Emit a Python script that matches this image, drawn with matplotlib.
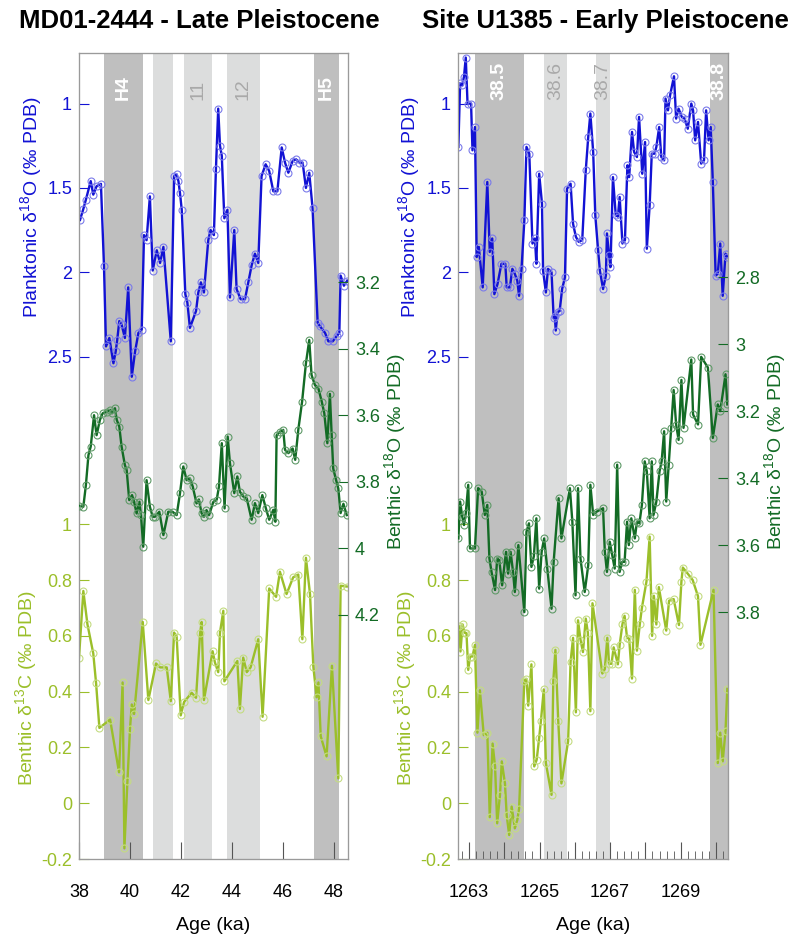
import matplotlib
matplotlib.use('Agg')
import matplotlib.pyplot as plt
from matplotlib.ticker import FixedLocator, MultipleLocator

plt.rcParams['font.family'] = ['Liberation Sans', 'DejaVu Sans']
plt.rcParams['mathtext.default'] = 'regular'
plt.rcParams['axes.unicode_minus'] = False

# ---- MD01-2444 (Late Pleistocene) ----
md_plank_age = [38.04, 38.17, 38.27, 38.46, 38.56, 38.69, 38.86, 38.98, 39.06, 39.19,
                39.35, 39.44, 39.50, 39.58, 39.67, 39.80, 39.93, 40.07, 40.20, 40.33,
                40.46, 40.55, 40.65, 40.78, 40.89, 41.05, 41.18, 41.31, 41.60, 41.73,
                41.83, 41.90, 41.96, 42.03, 42.17, 42.25, 42.35, 42.59, 42.68, 42.78,
                42.90, 43.07, 43.16, 43.29, 43.37, 43.46, 43.53, 43.60, 43.70, 43.82,
                43.92, 44.09, 44.18, 44.34, 44.51, 44.64, 44.77, 44.90, 45.03, 45.16,
                45.32, 45.46, 45.62, 45.78, 45.95, 46.08, 46.21, 46.38, 46.51, 46.64,
                46.77, 46.90, 47.03, 47.16, 47.36, 47.45, 47.65, 47.78, 47.95, 48.10,
                48.21, 48.26, 48.39, 48.52]
md_plank_d18o = [1.69, 1.625, 1.57, 1.46, 1.54, 1.49, 1.476, 1.965, 2.44, 2.39,
                 2.54, 2.47, 2.40, 2.29, 2.31, 2.39, 2.09, 2.62, 2.47, 2.36,
                 2.34, 1.78, 1.81, 1.55, 1.99, 1.87, 1.945, 1.85, 2.41, 1.43,
                 1.42, 1.46, 1.53, 1.63, 2.13, 2.18, 2.33, 2.23, 2.12, 2.06,
                 2.12, 1.81, 1.75, 1.78, 1.39, 1.03, 1.25, 1.31, 1.68, 1.63,
                 2.15, 1.75, 2.10, 2.16, 2.16, 2.06, 1.96, 1.89, 1.945, 1.43,
                 1.36, 1.40, 1.52, 1.52, 1.26, 1.35, 1.41, 1.34, 1.33, 1.35,
                 1.35, 1.50, 1.41, 1.62, 2.30, 2.32, 2.36, 2.41, 2.41, 2.38,
                 2.36, 2.02, 2.08, 2.05]

md_benth_age = [38.00, 38.17, 38.27, 38.37, 38.46, 38.59, 38.69, 38.82, 38.93, 39.08,
                39.22, 39.30, 39.41, 39.48, 39.58, 39.67, 39.80, 39.87, 39.97, 40.08,
                40.16, 40.26, 40.37, 40.43, 40.52, 40.65, 40.78, 40.89, 40.98, 41.15,
                41.31, 41.50, 41.67, 41.83, 41.96, 42.09, 42.22, 42.35, 42.46, 42.61,
                42.70, 42.81, 42.90, 43.00, 43.10, 43.27, 43.40, 43.49, 43.60, 43.71,
                43.83, 43.92, 44.09, 44.21, 44.31, 44.44, 44.58, 44.77, 44.90, 45.03,
                45.19, 45.33, 45.46, 45.62, 45.70, 45.75, 45.88, 46.01, 46.08, 46.21,
                46.38, 46.48, 46.60, 46.75, 46.90, 47.03, 47.12, 47.25, 47.39, 47.52,
                47.62, 47.74, 47.84, 47.91, 47.97, 48.08, 48.17, 48.26, 48.37, 48.50]
md_benth_d18o = [3.872, 3.875, 3.81, 3.72, 3.694, 3.60, 3.66, 3.614, 3.594, 3.59,
                 3.584, 3.594, 3.579, 3.614, 3.634, 3.694, 3.75, 3.765, 3.855, 3.84,
                 3.86, 3.895, 3.86, 3.90, 3.995, 3.795, 3.875, 3.905, 3.905, 3.89,
                 3.96, 3.89, 3.89, 3.90, 3.835, 3.754, 3.795, 3.79, 3.814, 3.865,
                 3.853, 3.895, 3.905, 3.885, 3.90, 3.86, 3.854, 3.814, 3.684, 3.88,
                 3.664, 3.744, 3.834, 3.784, 3.83, 3.844, 3.85, 3.914, 3.864, 3.894,
                 3.84, 3.88, 3.914, 3.884, 3.92, 3.66, 3.65, 3.644, 3.704, 3.714,
                 3.70, 3.734, 3.644, 3.559, 3.444, 3.374, 3.479, 3.509, 3.52, 3.559,
                 3.594, 3.684, 3.536, 3.66, 3.76, 3.794, 3.82, 3.894, 3.866, 3.90]

md_c13_age = [38.00, 38.17, 38.33, 38.56, 38.67, 38.80, 39.22, 39.57, 39.71, 39.78,
              39.90, 40.00, 40.07, 40.16, 40.50, 40.72, 41.02, 41.18, 41.44, 41.60,
              41.73, 41.83, 41.99, 42.12, 42.42, 42.59, 42.75, 42.81, 42.90, 43.24,
              43.33, 43.46, 43.53, 43.66, 43.70, 44.21, 44.31, 44.44, 44.58, 44.73,
              45.03, 45.20, 45.46, 45.73, 45.88, 46.14, 46.40, 46.60, 46.76, 46.90,
              47.06, 47.19, 47.32, 47.39, 47.48, 47.71, 47.92, 48.17, 48.26, 48.50]
md_c13 = [0.522, 0.761, 0.642, 0.537, 0.43, 0.27, 0.30, 0.111, 0.433, -0.162,
          0.08, 0.267, 0.354, 0.32, 0.65, 0.37, 0.501, 0.487, 0.487, 0.366,
          0.612, 0.597, 0.315, 0.363, 0.396, 0.378, 0.61, 0.65, 0.37, 0.545,
          0.505, 0.47, 0.612, 0.69, 0.437, 0.51, 0.338, 0.522, 0.47, 0.487,
          0.588, 0.31, 0.77, 0.74, 0.83, 0.75, 0.81, 0.82, 0.588, 0.88,
          0.75, 0.49, 0.38, 0.433, 0.24, 0.168, 0.493, 0.089, 0.78, 0.777]

# ---- Site U1385 (Early Pleistocene) ----
u_plank_age = [1262.70, 1262.75, 1262.81, 1262.86, 1262.91, 1262.96, 1263.06, 1263.10, 1263.17, 1263.22,
               1263.28, 1263.39, 1263.52, 1263.59, 1263.66, 1263.72, 1263.81, 1263.92, 1264.03, 1264.07,
               1264.16, 1264.23, 1264.30, 1264.37, 1264.42, 1264.49, 1264.57, 1264.63, 1264.71, 1264.80,
               1264.87, 1264.91, 1264.99, 1265.07, 1265.10, 1265.18, 1265.24, 1265.34, 1265.40, 1265.43,
               1265.46, 1265.51, 1265.57, 1265.64, 1265.72, 1265.78, 1265.88, 1265.95, 1266.03, 1266.11,
               1266.21, 1266.31, 1266.38, 1266.44, 1266.52, 1266.58, 1266.66, 1266.71, 1266.80, 1266.88,
               1266.91, 1266.97, 1267.01, 1267.08, 1267.16, 1267.22, 1267.27, 1267.35, 1267.42, 1267.49,
               1267.54, 1267.62, 1267.68, 1267.76, 1267.82, 1267.91, 1267.99, 1268.04, 1268.12, 1268.18,
               1268.26, 1268.31, 1268.39, 1268.45, 1268.53, 1268.57, 1268.64, 1268.70, 1268.81, 1268.87,
               1268.94, 1269.03, 1269.11, 1269.20, 1269.30, 1269.35, 1269.41, 1269.49, 1269.58, 1269.66,
               1269.72, 1269.79, 1269.85, 1269.91, 1269.99, 1270.05, 1270.12, 1270.19, 1270.27, 1270.32]
u_plank_d18o = [1.257, 0.88, 0.89, 0.84, 0.727, 1.0, 1.0, 1.277, 1.139, 1.91,
                1.85, 2.09, 1.465, 1.88, 1.80, 2.13, 2.07, 1.95, 1.95, 2.09,
                2.09, 1.98, 2.01, 2.05, 2.14, 1.98, 1.693, 1.257, 1.297, 1.83,
                1.80, 1.95, 1.416, 1.594, 1.99, 2.12, 1.98, 2.0, 2.27, 2.257,
                2.346, 2.237, 2.23, 2.10, 2.03, 1.505, 1.475, 1.713, 1.79, 1.82,
                1.81, 1.396, 1.198, 1.059, 1.287, 1.663, 1.871, 1.99, 2.10, 2.02,
                1.77, 1.90, 1.97, 1.436, 1.663, 1.67, 1.554, 1.83, 1.81, 1.366,
                1.436, 1.168, 1.287, 1.317, 1.079, 1.416, 1.228, 1.861, 1.604, 1.297,
                1.297, 1.257, 1.139, 1.317, 1.337, 0.97, 1.04, 0.95, 0.838, 1.089,
                1.03, 1.079, 1.089, 1.149, 1.0, 1.04, 1.218, 1.109, 1.356, 1.337,
                1.04, 1.218, 1.139, 1.465, 2.02, 2.01, 1.83, 2.14, 1.89, 1.91]

u_benth_age = [1262.70, 1262.75, 1262.81, 1262.86, 1262.91, 1262.98, 1263.03, 1263.17, 1263.26, 1263.36,
               1263.45, 1263.52, 1263.58, 1263.64, 1263.74, 1263.80, 1263.86, 1263.94, 1264.05, 1264.11,
               1264.18, 1264.25, 1264.30, 1264.40, 1264.57, 1264.63, 1264.70, 1264.77, 1264.84, 1264.91,
               1264.99, 1265.06, 1265.13, 1265.22, 1265.34, 1265.40, 1265.54, 1265.62, 1265.86, 1265.93,
               1266.02, 1266.09, 1266.16, 1266.28, 1266.38, 1266.44, 1266.52, 1266.62, 1266.80, 1266.85,
               1266.91, 1266.99, 1267.06, 1267.13, 1267.20, 1267.27, 1267.34, 1267.41, 1267.48, 1267.53,
               1267.60, 1267.70, 1267.76, 1267.83, 1267.90, 1267.98, 1268.04, 1268.12, 1268.18, 1268.23,
               1268.31, 1268.40, 1268.46, 1268.53, 1268.59, 1268.66, 1268.73, 1268.80, 1268.87, 1268.94,
               1269.02, 1269.08, 1269.30, 1269.35, 1269.49, 1269.58, 1269.77, 1269.91, 1270.05, 1270.12,
               1270.27, 1270.32]
u_benth_d18o = [3.58, 3.47, 3.515, 3.54, 3.505, 3.42, 3.61, 3.61, 3.43, 3.44,
                3.51, 3.48, 3.64, 3.68, 3.734, 3.64, 3.645, 3.72, 3.62, 3.685,
                3.62, 3.68, 3.74, 3.60, 3.80, 3.56, 3.535, 3.665, 3.633, 3.52,
                3.73, 3.62, 3.58, 3.67, 3.79, 3.65, 3.46, 3.58, 3.43, 3.53,
                3.75, 3.43, 3.64, 3.74, 3.66, 3.42, 3.51, 3.50, 3.49, 3.62,
                3.68, 3.59, 3.63, 3.67, 3.36, 3.68, 3.65, 3.65, 3.53, 3.60,
                3.52, 3.58, 3.53, 3.535, 3.48, 3.35, 3.38, 3.52, 3.35, 3.51,
                3.47, 3.38, 3.35, 3.26, 3.47, 3.36, 3.25, 3.137, 3.24, 3.286,
                3.107, 3.25, 3.046, 3.21, 3.24, 3.038, 3.07, 3.28, 3.18, 3.20,
                3.09, 3.18]

u_c13_age = [1262.73, 1262.76, 1262.82, 1262.88, 1262.93, 1262.98, 1263.03, 1263.10, 1263.17, 1263.24,
             1263.31, 1263.42, 1263.52, 1263.59, 1263.67, 1263.74, 1263.80, 1263.88, 1263.93, 1264.02,
             1264.07, 1264.14, 1264.21, 1264.30, 1264.37, 1264.42, 1264.57, 1264.63, 1264.68, 1264.77,
             1264.85, 1264.92, 1264.99, 1265.04, 1265.12, 1265.18, 1265.34, 1265.39, 1265.45, 1265.53,
             1265.62, 1265.81, 1265.88, 1265.95, 1266.03, 1266.09, 1266.16, 1266.23, 1266.31, 1266.37,
             1266.44, 1266.50, 1266.78, 1266.85, 1266.92, 1266.97, 1267.04, 1267.10, 1267.22, 1267.27,
             1267.35, 1267.41, 1267.48, 1267.54, 1267.62, 1267.70, 1267.76, 1267.84, 1267.90, 1268.03,
             1268.12, 1268.19, 1268.24, 1268.31, 1268.38, 1268.59, 1268.67, 1268.80, 1268.95, 1269.02,
             1269.06, 1269.20, 1269.34, 1269.49, 1269.56, 1269.93, 1270.05, 1270.12, 1270.19, 1270.27,
             1270.32]
u_c13 = [0.635, 0.544, 0.641, 0.611, 0.61, 0.478, 0.526, 0.526, 0.568, 0.253,
         0.405, 0.244, 0.253, -0.05, 0.214, 0.132, -0.072, 0.03, 0.15, 0.071,
         -0.044, -0.114, -0.012, -0.09, -0.06, -0.02, 0.44, 0.446, 0.35, 0.498,
         0.132, 0.156, 0.235, 0.296, 0.408, 0.144, 0.03, 0.438, 0.55, 0.295,
         0.071, 0.222, 0.508, 0.593, 0.326, 0.656, 0.587, 0.542, 0.662, 0.611,
         0.33, 0.717, 0.465, 0.481, 0.593, 0.50, 0.50, 0.559, 0.498, 0.568,
         0.643, 0.672, 0.593, 0.59, 0.447, 0.765, 0.547, 0.641, 0.70, 0.795,
         0.956, 0.60, 0.744, 0.641, 0.775, 0.619, 0.726, 0.732, 0.639, 0.795,
         0.845, 0.823, 0.80, 0.742, 0.568, 0.765, 0.144, 0.253, 0.15, 0.26,
         0.41]

# event bands: (start, end, label, kind)
md_bands = [(39.0, 40.5, 'H4', 'dark'), (40.9, 41.7, '', 'light'),
            (42.1, 43.2, '11', 'light'), (43.8, 45.1, '12', 'light'),
            (47.2, 48.2, 'H5', 'dark')]
u_bands = [(1263.17, 1264.56, '38.5', 'dark'), (1265.12, 1265.78, '38.6', 'light'),
           (1266.6, 1267.0, '38.7', 'light'), (1269.83, 1270.5, '38.8', 'dark')]

BLUE = '#1212d4'
BLUE_MK = '#7b7bea'
DGREEN = '#136b25'
DGREEN_MK = '#5f9a68'
LGREEN = '#9bbf2a'
LGREEN_MK = '#c4dc82'
SPINE = '#9a9a9a'
DARK_BAND = '#bfbfbf'
LIGHT_BAND = '#dcdddd'

W, H = 790, 941
fig = plt.figure(figsize=(W / 100, H / 100), dpi=100)


def series(ax, x, y, color, mk):
    ax.plot(x, y, '-', color=color, lw=1.7, marker='o', ms=5, mfc='none',
            mec=mk, mew=0.8, zorder=3)


def draw_panel(left_px, right_px, title, title_x, xlim, xticks, xlabels, minor,
               bands, plank, benth, c13, benth_lim, benth_ticks):
    rect = [left_px / W, 1 - 859 / H, (right_px - left_px) / W, 806 / H]
    ax = fig.add_axes(rect)
    ax.set_xlim(*xlim)
    for s, e, lab, kind in bands:
        ax.axvspan(s, e, color=DARK_BAND if kind == 'dark' else LIGHT_BAND, lw=0, zorder=0)
        if lab:
            ax.text((s + min(e, xlim[1])) / 2, 0.942, lab, rotation=90,
                    transform=ax.get_xaxis_transform(), ha='center', va='bottom',
                    fontsize=14, color='white' if kind == 'dark' else '#a9a9a9',
                    fontweight='bold' if kind == 'dark' else 'normal', zorder=1)

    # benthic d13C on the main axis (left, not inverted)
    ax.set_ylim(-0.2, 2.69)
    ax.set_yticks([-0.2, 0, 0.2, 0.4, 0.6, 0.8, 1])
    ax.set_yticklabels(['-0.2', '0', '0.2', '0.4', '0.6', '0.8', '1'])
    ax.tick_params(axis='y', direction='in', length=7, colors=LGREEN, labelsize=13, pad=5)
    series(ax, c13[0], c13[1], LGREEN, LGREEN_MK)

    # planktonic d18O (left, inverted)
    axp = ax.twinx()
    axp.yaxis.tick_left()
    axp.set_ylim(5.48, 0.70)
    axp.set_yticks([1, 1.5, 2, 2.5])
    axp.set_yticklabels(['1', '1.5', '2', '2.5'])
    axp.tick_params(axis='y', direction='in', length=7, colors=BLUE, labelsize=13, pad=5)
    series(axp, plank[0], plank[1], BLUE, BLUE_MK)

    # benthic d18O (right, inverted)
    axb = ax.twinx()
    axb.set_ylim(*benth_lim)
    axb.set_yticks(benth_ticks)
    axb.set_yticklabels(['%g' % t for t in benth_ticks])
    axb.tick_params(axis='y', direction='in', length=7, colors=DGREEN, labelsize=13, pad=5)
    series(axb, benth[0], benth[1], DGREEN, DGREEN_MK)

    for a in (ax, axp, axb):
        for sp in a.spines.values():
            sp.set_color(SPINE)
        a.set_xlim(*xlim)

    ax.set_xticks(xticks)
    ax.set_xticklabels(xlabels)
    if minor:
        ax.xaxis.set_minor_locator(MultipleLocator(minor))
    ax.tick_params(axis='x', which='major', direction='in', length=12, color='#555555',
                   labelsize=13, pad=18, labelcolor='black')
    ax.tick_params(axis='x', which='minor', direction='in', length=6, color='#555555')

    ax.text(0.5, -0.082, 'Age (ka)', transform=ax.transAxes, ha='center', va='center',
            fontsize=14)
    lab = 'Planktonic δ$^{18}$O (‰ PDB)'
    axp.text(-0.18, 0.809, lab, transform=ax.transAxes, rotation=90, ha='center',
             va='center', fontsize=14, color=BLUE)
    ax.text(-0.195, 0.212, 'Benthic δ$^{13}$C (‰ PDB)', transform=ax.transAxes, rotation=90,
            ha='center', va='center', fontsize=14, color=LGREEN)
    axb.text(1.175, 0.505, 'Benthic δ$^{18}$O (‰ PDB)', transform=ax.transAxes, rotation=90,
             ha='center', va='center', fontsize=14, color=DGREEN)
    fig.text(title_x / W, 1 - 28 / H, title, ha='center', va='baseline',
             fontsize=18.5, fontweight='bold')


draw_panel(79, 348, 'MD01-2444 - Late Pleistocene', 199, (38, 48.55),
           [38, 40, 42, 44, 46, 48], ['38', '40', '42', '44', '46', '48'], None,
           md_bands, (md_plank_age, md_plank_d18o), (md_benth_age, md_benth_d18o),
           (md_c13_age, md_c13), (4.933, 2.512), [3.2, 3.4, 3.6, 3.8, 4, 4.2])

draw_panel(458, 728, 'Site U1385 - Early Pleistocene', 605, (1262.69, 1270.34),
           [1263, 1264, 1265, 1266, 1267, 1268, 1269, 1270],
           ['1263', '', '1265', '', '1267', '', '1269', ''], 0.2,
           u_bands, (u_plank_age, u_plank_d18o), (u_benth_age, u_benth_d18o),
           (u_c13_age, u_c13), (4.537, 2.131), [2.8, 3, 3.2, 3.4, 3.6, 3.8])

fig.savefig('out.png', dpi=100)
